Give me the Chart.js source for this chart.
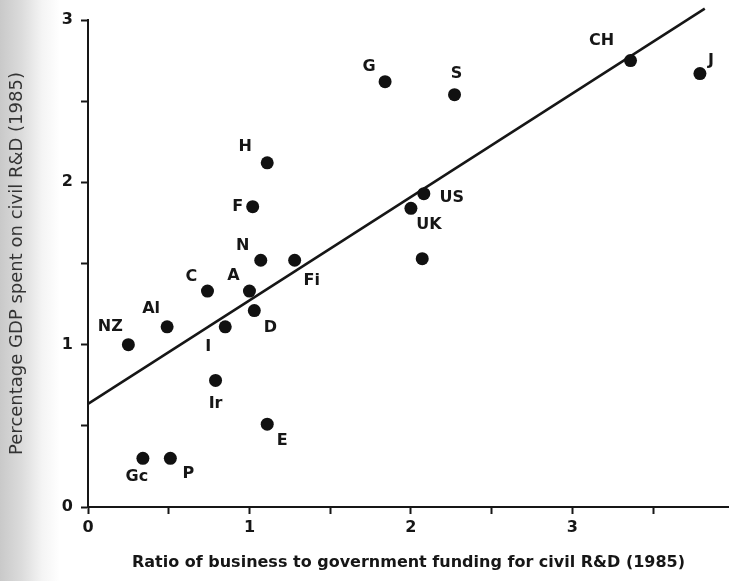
<!DOCTYPE html>
<html>
<head>
<meta charset="utf-8">
<script src="https://cdn.jsdelivr.net/npm/chart.js@4.4.0/dist/chart.umd.min.js"></script>
<style>
  html, body { margin: 0; padding: 0; }
  body {
    width: 729px; height: 581px; overflow: hidden;
    background: linear-gradient(to right, #c9c9c9 0px, #dcdcdc 22px, #f4f4f4 42px, #ffffff 60px);
  }
  canvas { display: block; }
</style>
</head>
<body>
<canvas id="rdChart" width="729" height="581"></canvas>
<script>
// country codes, business/government funding ratio, % GDP on civil R&D (1985)
const countries = ['NZ', 'Al', 'Gc', 'P', 'Ir', 'E', 'N', 'Fi', 'C', 'A', 'D', 'I',
                   'US', 'UK', '', 'CH', 'J', 'G', 'S', 'H', 'F'];
const ratio  = [0.25, 0.49, 0.34, 0.51, 0.79, 1.11, 1.07, 1.28, 0.74, 1.00, 1.03, 0.85,
                2.08, 2.00, 2.07, 3.36, 3.79, 1.84, 2.27, 1.11, 1.02];
const gdpPct = [1.00, 1.11, 0.30, 0.30, 0.78, 0.51, 1.52, 1.52, 1.33, 1.33, 1.21, 1.11,
                1.93, 1.84, 1.53, 2.75, 2.67, 2.62, 2.54, 2.12, 1.85];

// fitted regression line end points
const trendX = [0, 3.82];
const trendY = [0.635, 3.07];

const xTicks = [0, 0.5, 1, 1.5, 2, 2.5, 3, 3.5];
const yTicks = [0, 0.5, 1, 1.5, 2, 2.5, 3];

// where each country code sits relative to its dot (px)
const labelOffsets = [
  [-18, -18], [-16, -18], [-6, 19], [18, 16], [0, 23], [15, 17],
  [-18, -14], [17, 21], [-16, -14], [-16, -15], [16, 17], [-17, 20],
  [28, 4], [18, 17], [0, 0], [-29, -20], [11, -13], [-16, -15], [2, -21],
  [-22, -16], [-15, 0]
];

const INK = '#161616';
const FONT = 'DejaVu Sans';

const pointLabels = {
  id: 'pointLabels',
  afterDatasetsDraw(chart) {
    const ctx = chart.ctx;
    const meta = chart.getDatasetMeta(0);
    ctx.save();
    ctx.font = 'bold 16px "' + FONT + '"';
    ctx.fillStyle = INK;
    ctx.textAlign = 'center';
    ctx.textBaseline = 'middle';
    meta.data.forEach((pt, i) => {
      if (!countries[i]) return;
      ctx.fillText(countries[i], pt.x + labelOffsets[i][0], pt.y + labelOffsets[i][1]);
    });
    ctx.restore();
  }
};

const axisCommon = {
  type: 'linear',
  grid: { drawOnChartArea: false, drawTicks: true, tickLength: 7, tickColor: INK, tickWidth: 2 },
  border: { color: INK, width: 2 },
};

new Chart(document.getElementById('rdChart'), {
  type: 'scatter',
  data: {
    datasets: [{
      data: ratio.map((x, i) => ({ x: x, y: gdpPct[i] })),
      backgroundColor: '#111',
      borderWidth: 0,
      pointRadius: 6.5,
      order: 0,
    }, {
      type: 'line',
      data: trendX.map((x, i) => ({ x: x, y: trendY[i] })),
      borderColor: INK,
      borderWidth: 2.5,
      pointRadius: 0,
      clip: false,
      order: 1,
    }],
  },
  options: {
    responsive: false,
    animation: false,
    devicePixelRatio: 1,
    layout: { autoPadding: false, padding: { top: 20, right: 0, left: 0, bottom: 0 } },
    plugins: { legend: { display: false }, tooltip: { enabled: false } },
    scales: {
      x: {
        ...axisCommon,
        min: 0, max: 3.97,
        afterBuildTicks: s => { s.ticks = xTicks.map(v => ({ value: v })); },
        afterFit: s => { s.height = 74; },
        ticks: {
          autoSkip: false, padding: 4, color: INK,
          font: { family: FONT, size: 16, weight: 'bold' },
          callback: v => Number.isInteger(v) ? v : '',
        },
        title: {
          display: true,
          text: 'Ratio of business to government funding for civil R&D (1985)',
          color: INK,
          font: { family: FONT, size: 16, weight: 'bold' },
          padding: { top: 0, bottom: 9 },
        },
      },
      y: {
        ...axisCommon,
        min: 0, max: 3,
        afterBuildTicks: s => { s.ticks = yTicks.map(v => ({ value: v })); },
        afterFit: s => { s.width = 88; },
        ticks: {
          autoSkip: false, padding: 8, color: INK,
          font: { family: FONT, size: 16, weight: 'bold' },
          callback: v => Number.isInteger(v) ? v : '',
        },
        title: {
          display: true,
          text: 'Percentage GDP spent on civil R&D (1985)',
          color: '#333333',
          font: { family: FONT, size: 18 },
          padding: { top: 7, bottom: 0 },
        },
      },
    },
  },
  plugins: [pointLabels],
});
</script>
</body>
</html>
